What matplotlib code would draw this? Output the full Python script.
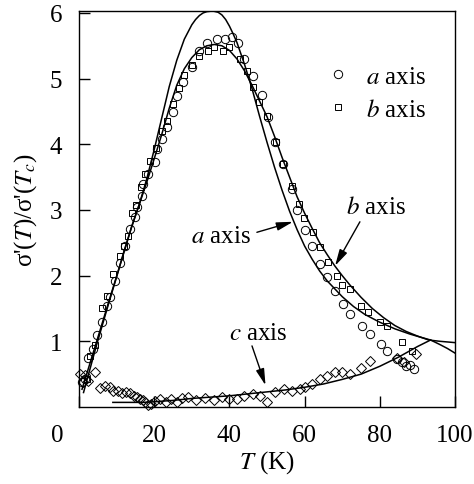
import matplotlib
matplotlib.use("Agg")
import matplotlib.pyplot as plt
from matplotlib.transforms import ScaledTranslation

plt.rcParams['font.family'] = ['Liberation Serif', 'DejaVu Serif']
plt.rcParams['mathtext.fontset'] = 'stix'
plt.rcParams['font.size'] = 18

# ---------------------------------------------------------------------
# Data
# ---------------------------------------------------------------------
# a axis (circles)
a_T = [0.8, 1.6, 2.4, 3.8, 4.8, 6.2, 7.4, 8.2, 9.5, 10.9, 12.2, 13.6, 15.0, 15.4,
       16.7, 17.0, 18.4, 20.2, 20.7, 22.0, 23.4, 25.0, 26.0, 27.7, 30.0, 32.0,
       34.0, 36.7, 38.8, 40.7, 42.3, 44.0, 46.3, 48.6, 50.3, 52.0, 54.3, 56.6,
       57.9, 60.0, 62.0, 64.0, 66.0, 68.0, 70.2, 72.0, 75.3, 77.4, 80.3, 82.0,
       84.5, 86.0, 87.0, 88.0, 89.0]
a_sig = [0.38, 0.42, 0.75, 0.88, 1.10, 1.30, 1.54, 1.67, 1.92, 2.20, 2.45, 2.71, 2.90, 3.05,
         3.21, 3.40, 3.55, 3.73, 3.93, 4.08, 4.26, 4.49, 4.74, 4.95, 5.17, 5.42,
         5.55, 5.60, 5.60, 5.63, 5.55, 5.30, 5.04, 4.75, 4.41, 4.03, 3.70, 3.32,
         3.00, 2.70, 2.45, 2.18, 1.98, 1.77, 1.57, 1.42, 1.23, 1.11, 0.96, 0.85,
         0.73, 0.68, 0.62, 0.64, 0.58]

# b axis (squares)
b_T = [2.0, 2.9, 4.2, 6.1, 7.4, 9.0, 10.9, 12.0, 13.0, 14.1, 15.2, 16.4, 17.5, 19.0,
       20.5, 22.0, 23.5, 25.0, 26.5, 28.0, 30.0, 32.0, 34.3, 36.0, 38.3, 40.0,
       42.8, 44.7, 46.3, 47.9, 50.0, 52.4, 54.3, 56.6, 58.5, 59.8, 62.2, 64.0,
       66.2, 68.6, 70.0, 72.0, 75.0, 76.9, 80.0, 81.9, 86.0, 88.6]
b_sig = [0.42, 0.78, 0.95, 1.50, 1.69, 2.02, 2.30, 2.45, 2.60, 2.95, 3.08, 3.35, 3.55, 3.75,
         3.95, 4.20, 4.35, 4.62, 4.85, 5.05, 5.20, 5.35, 5.42, 5.48, 5.42, 5.48,
         5.30, 5.12, 4.88, 4.64, 4.43, 4.03, 3.70, 3.37, 3.09, 2.88, 2.66, 2.43,
         2.21, 2.00, 1.86, 1.80, 1.54, 1.45, 1.29, 1.23, 0.99, 0.85]

# c axis (diamonds)
c_T = [0.3, 1.0, 1.6, 2.5, 4.3, 5.6, 6.9, 8.2, 9.0, 10.4, 11.4, 12.6, 13.5, 14.5,
       15.5, 16.2, 17.0, 17.6, 18.4, 19.2, 20.2, 21.5, 23.0, 24.5, 26.0, 27.5,
       29.0, 31.0, 33.5, 36.0, 38.0, 40.0, 42.0, 44.0, 46.4, 48.0, 50.0, 52.0,
       54.4, 56.6, 58.8, 60.0, 62.0, 64.0, 66.0, 68.0, 70.0, 72.0, 75.0, 77.4,
       84.5, 86.5, 89.5]
c_sig = [0.50, 0.38, 0.48, 0.40, 0.53, 0.29, 0.32, 0.30, 0.24, 0.24, 0.22, 0.23, 0.22, 0.17,
         0.15, 0.12, 0.10, 0.07, 0.03, 0.05, 0.09, 0.12, 0.08, 0.12, 0.08, 0.13,
         0.15, 0.10, 0.14, 0.10, 0.15, 0.12, 0.12, 0.17, 0.20, 0.17, 0.08, 0.23,
         0.27, 0.25, 0.27, 0.30, 0.35, 0.42, 0.47, 0.53, 0.53, 0.50, 0.60, 0.70,
         0.75, 0.68, 0.80]

# model curves
fit_a_T = [0.8, 4.7, 8.0, 12.2, 14.0, 16.0, 18.0, 20.0, 22.0, 24.0, 26.0, 28.0, 30.0,
           31.0, 32.0, 33.0, 34.0, 35.6, 37.0, 38.0, 39.0, 40.0, 41.0, 42.0, 44.0,
           46.0, 48.0, 50.0, 52.0, 54.0, 56.0, 58.0, 60.0, 62.0, 64.0, 66.0, 68.0,
           70.0, 73.0, 76.0, 80.0, 84.0, 88.0, 91.0, 93.5, 96.0, 98.0, 100.0]
fit_a_sig = [0.27, 1.00, 1.62, 2.40, 2.75, 3.08, 3.47, 3.92, 4.40, 4.88, 5.28, 5.60, 5.82,
             5.90, 5.96, 6.00, 6.02, 6.03, 6.01, 5.97, 5.90, 5.80, 5.68, 5.55, 5.22,
             4.85, 4.43, 4.03, 3.65, 3.30, 2.98, 2.70, 2.45, 2.25, 2.07, 1.92, 1.80,
             1.68, 1.53, 1.41, 1.29, 1.19, 1.11, 1.06, 1.02, 0.95, 0.89, 0.82]

fit_b_T = [1.2, 4.7, 8.0, 10.0, 12.0, 14.0, 16.0, 18.0, 20.0, 22.0, 24.0, 26.0, 28.0,
           30.0, 32.0, 34.0, 36.0, 38.0, 40.0, 42.0, 44.0, 46.0, 48.0, 50.0, 52.0,
           54.0, 56.0, 58.0, 60.0, 62.0, 64.0, 66.0, 68.0, 70.0, 72.0, 75.0, 78.0,
           81.0, 84.0, 87.0, 90.0, 93.0, 96.0, 100.0]
fit_b_sig = [0.22, 0.95, 1.60, 1.98, 2.38, 2.74, 3.08, 3.42, 3.78, 4.15, 4.55, 4.90, 5.15,
             5.32, 5.44, 5.50, 5.52, 5.50, 5.43, 5.30, 5.12, 4.90, 4.66, 4.42, 4.12,
             3.80, 3.50, 3.20, 2.95, 2.72, 2.50, 2.32, 2.15, 2.00, 1.86, 1.67, 1.50,
             1.36, 1.24, 1.15, 1.08, 1.02, 1.00, 0.98]

fit_c_T = [9.0, 17.0, 20.0, 25.0, 30.0, 35.0, 40.0, 45.0, 50.0, 55.0, 60.0, 65.0,
           70.0, 75.0, 80.0, 85.0, 90.0, 93.5]
fit_c_sig = [0.07, 0.07, 0.08, 0.10, 0.13, 0.15, 0.17, 0.20, 0.23, 0.26, 0.30, 0.35,
             0.42, 0.50, 0.62, 0.76, 0.92, 1.02]

x_ticks = [0, 20, 40, 60, 80, 100]
y_ticks = [1, 2, 3, 4, 5, 6]

# ---------------------------------------------------------------------
# Plot
# ---------------------------------------------------------------------
fig = plt.figure(figsize=(4.74, 4.85), dpi=100)
ax = fig.add_axes([0.1667, 0.1588, 0.7933, 0.8165])

mk = dict(linestyle='none', markerfacecolor='none', markeredgecolor='black',
          markeredgewidth=0.7, clip_on=False)
ax.plot(a_T, a_sig, marker='o', markersize=6.0, label='$a$ axis', **mk)
ax.plot(b_T, b_sig, marker='s', markersize=4.6, label='$b$ axis', **mk)
ax.plot(c_T, c_sig, marker='D', markersize=5.0, **mk)

ax.plot(fit_a_T, fit_a_sig, color='black', lw=1.1)
ax.plot(fit_b_T, fit_b_sig, color='black', lw=1.1)
ax.plot(fit_c_T, fit_c_sig, color='black', lw=1.1)

arrow = dict(arrowstyle='-|>,head_length=0.55,head_width=0.14', color='black',
             lw=1.0, shrinkA=0, shrinkB=0)
ax.annotate('', xy=(56.9, 2.82), xytext=(47.3, 2.66), arrowprops=arrow)
ax.text(37.8, 2.6, '$a$ axis', ha='center', va='center')
ax.annotate('', xy=(68.1, 2.15), xytext=(74.7, 2.82), arrowprops=arrow)
ax.text(79.0, 3.05, '$b$ axis', ha='center', va='center')
ax.annotate('', xy=(49.6, 0.33), xytext=(46.0, 0.93), arrowprops=arrow)
ax.text(47.6, 1.12, '$c$ axis', ha='center', va='center')

ax.legend(loc='upper left', bbox_to_anchor=(0.629, 0.887), frameon=False,
          handlelength=1.0, handletextpad=0.6, labelspacing=0.4,
          borderaxespad=0.0, fontsize=18)

ax.set_xlim(0, 100)
ax.set_ylim(0, 6.03)
ax.set_xticks(x_ticks)
ax.set_yticks(y_ticks)
ax.tick_params(direction='in', length=8, width=1, labelsize=18)
ax.tick_params(axis='x', pad=12)
ax.tick_params(axis='y', pad=12)
ax.tick_params(top=False, right=False)
for s in ax.spines.values():
    s.set_linewidth(1.0)

# the "0" label sits left of the axis in the original
t0 = ax.xaxis.get_major_ticks()[0]
t0.label1.set_transform(t0.label1.get_transform() +
                        ScaledTranslation(-0.22, 0, fig.dpi_scale_trans))

ax.set_xlabel('$T$ (K)', fontsize=18, labelpad=2)
ax.set_ylabel("σ'($T$)/σ'($T_c$)", fontsize=18, labelpad=8)

fig.savefig('out.png', dpi=100)
